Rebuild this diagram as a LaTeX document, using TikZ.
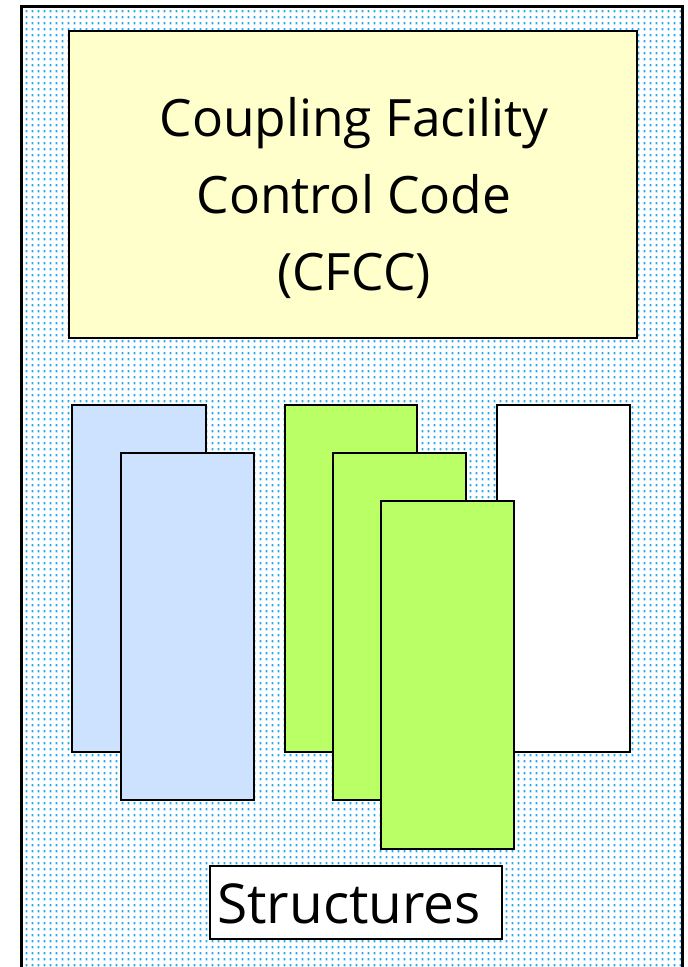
\documentclass[tikz,border=0pt]{standalone}
\usepackage{fontspec}
\setmainfont{Open Sans}
\usetikzlibrary{patterns}
\pgfdeclarepatternformonly{bgdots}{\pgfqpoint{0pt}{0pt}}{\pgfqpoint{6pt}{6pt}}{\pgfqpoint{6pt}{6pt}}{%
  \pgfpathrectangle{\pgfqpoint{2pt}{2pt}}{\pgfqpoint{2pt}{2.5pt}}\pgfusepath{fill}}
\definecolor{dotblue}{HTML}{22AAF0}
\definecolor{cfccyellow}{HTML}{FFFFCC}
\definecolor{structblue}{HTML}{CCE2FF}
\definecolor{structgreen}{HTML}{BBFF66}
\tikzset{
  rect/.style={draw=black, line width=2pt, inner sep=0pt, outer sep=0pt},
  label text/.style={font=\fontsize{51.5}{77}\selectfont, align=center}
}
\begin{document}
\begin{tikzpicture}[x=1pt, y=-1pt]
\useasboundingbox (0,0) rectangle (688,967);
% background pattern
\fill[pattern=bgdots, pattern color=dotblue] (22,7) rectangle (682,967);
\draw[line width=2.2pt] (21.5,967) -- (21.5,6.5) -- (682.5,6.5) -- (682.5,967);
% CFCC box
\node[rect, fill=cfccyellow, minimum width=568pt, minimum height=307pt] (cfcc) at (353,184.5) {};
\node[label text] (cfcctext) at (354,198) {Coupling Facility\\Control Code\\(CFCC)};
% structures
\node[rect, fill=white, minimum width=133pt, minimum height=347pt] (w1) at (563.5,578.5) {};
\node[rect, fill=structblue, minimum width=134pt, minimum height=347pt] (b1) at (139,578.5) {};
\node[rect, fill=structblue, minimum width=133pt, minimum height=347pt] (b2) at (187.5,626.5) {};
\node[rect, fill=structgreen, minimum width=132pt, minimum height=347pt] (g1) at (351,578.5) {};
\node[rect, fill=structgreen, minimum width=133pt, minimum height=347pt] (g2) at (399.5,626.5) {};
\node[rect, fill=structgreen, minimum width=133pt, minimum height=348pt] (g3) at (447.5,675) {};
% label box
\node[rect, fill=white, minimum width=292pt, minimum height=73pt] (lbl) at (356,902.5) {};
\node[font=\fontsize{55}{60}\selectfont, inner sep=0pt] (lbltext) at (349,904) {Structures};
\end{tikzpicture}
\end{document}
